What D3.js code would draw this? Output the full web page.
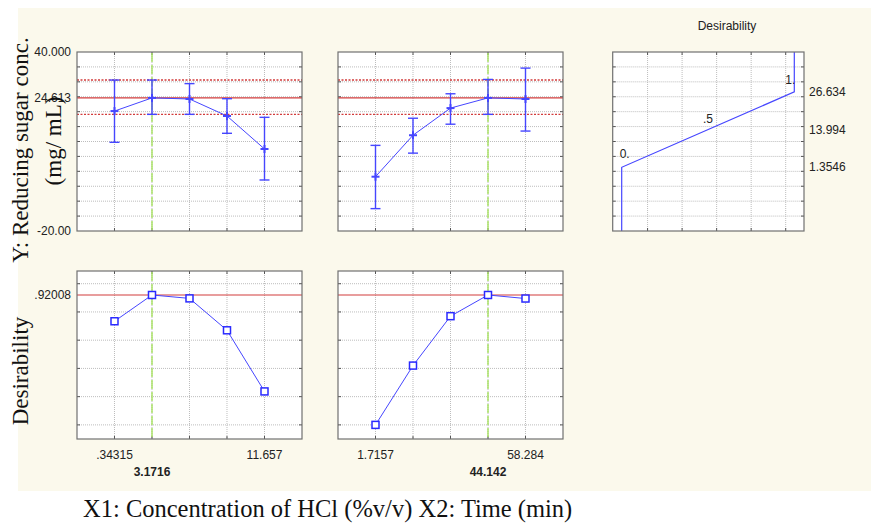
<!DOCTYPE html>
<html>
<head>
<meta charset="utf-8">
<script src="https://cdn.jsdelivr.net/npm/d3@7/dist/d3.min.js"></script>
<style>
  body { margin: 0; background: #fff; }
  svg { display: block; }
  .tick-lbl { font-family: "Liberation Sans", Arial, sans-serif; font-size: 12px; fill: #222; }
  .serif-lbl { font-family: "Liberation Serif", "Times New Roman", serif; fill: #111; }
</style>
</head>
<body>
<div id="chart"></div>
<script>
// factor levels (profiler grid) and the current setting
const x1Levels = [0.34315, 3.1716, 6.0, 8.8284, 11.657];
const x2Levels = [1.7157, 15.858, 30.0, 44.142, 58.284];
const x1Current = 3.1716;
const x2Current = 44.142;

// predicted reducing sugar and its interval at each level
const x1Pred  = [20.2, 24.613, 24.25, 18.55, 7.49];
const x1Lower = [9.73, 19.1, 19.1, 12.75, -2.9];
const x1Upper = [30.6, 30.6, 29.4, 24.35, 18.1];
const x2Pred  = [-1.8, 12.1, 21.2, 24.613, 24.25];
const x2Lower = [-12.5, 6.1, 15.8, 19.1, 13.5];
const x2Upper = [8.7, 17.8, 26.0, 30.8, 34.6];

// desirability at each level
const x1Desir = [0.734, 0.92008, 0.896, 0.670, 0.237];
const x2Desir = [0.0, 0.42, 0.77, 0.92008, 0.895];

// current response and confidence band
const predCurrent = 24.613;
const ciLow = 19.1, ciHigh = 30.6;
const desirCurrent = 0.92008;

// response axis
const yDomain = [-20, 40];
const yGrid = [-15, -10, -5, 0, 5, 10, 15, 20, 25, 30, 35];
const yTickVals = [40, 24.613, -20];
const yTickText = ['40.000', '24.613', '-20.00'];
const dGrid = [0, 0.2, 0.4, 0.6, 0.8, 1.0];

// desirability function of the response
const desFnY = [-20, 1.3546, 26.634, 40];
const desFnD = [0, 0, 1, 1];
const desFnLabelVals = [26.634, 13.994, 1.3546];
const desFnLabelText = ['26.634', '13.994', '1.3546'];
const desFnGrid = [0.15, 0.35, 0.55, 0.75, 0.95];

const W = 871, H = 525;
const svg = d3.select('#chart').append('svg').attr('width', W).attr('height', H);

svg.append('rect').attr('x', 18).attr('y', 8).attr('width', W - 18).attr('height', 483).attr('fill', '#fbf9ec');

const blue = '#4646ff';
const red = '#d23c3c';

const yTop = d3.scaleLinear().domain(yDomain).range([231, 52]);
const yBot = d3.scaleLinear().domain([-0.1, 1.09]).range([439, 271]);

function levelScale(levels, x0, x1){
  let step = levels[1] - levels[0];
  return d3.scaleLinear().domain([levels[0] - step, levels[levels.length - 1] + step]).range([x0, x1]);
}

function frame(xs, ys, xGridVals, yGridVals){
  let [x0, x1] = xs.range();
  let [y0, y1] = ys.range(); // y0 bottom, y1 top
  let g = svg.append('g');
  g.append('rect').attr('x', x0).attr('y', y1).attr('width', x1 - x0).attr('height', y0 - y1).attr('fill', '#fff');
  g.selectAll('.vg').data(xGridVals).enter().append('line')
    .attr('x1', d => xs(d)).attr('x2', d => xs(d)).attr('y1', y1).attr('y2', y0)
    .attr('stroke', '#bdbdbd').attr('stroke-dasharray', '1,1');
  g.selectAll('.hg').data(yGridVals).enter().append('line')
    .attr('x1', x0).attr('x2', x1).attr('y1', d => ys(d)).attr('y2', d => ys(d))
    .attr('stroke', '#bdbdbd').attr('stroke-dasharray', '1,1');
  // small inner ticks on every side
  let tk = 3;
  xGridVals.forEach(d => {
    g.append('line').attr('x1', xs(d)).attr('x2', xs(d)).attr('y1', y1).attr('y2', y1 + tk).attr('stroke', '#555');
    g.append('line').attr('x1', xs(d)).attr('x2', xs(d)).attr('y1', y0).attr('y2', y0 - tk).attr('stroke', '#555');
  });
  yGridVals.forEach(d => {
    g.append('line').attr('x1', x0).attr('x2', x0 + tk).attr('y1', ys(d)).attr('y2', ys(d)).attr('stroke', '#555');
    g.append('line').attr('x1', x1).attr('x2', x1 - tk).attr('y1', ys(d)).attr('y2', ys(d)).attr('stroke', '#555');
  });
  return g;
}

function border(xs, ys){
  let [x0, x1] = xs.range();
  let [y0, y1] = ys.range();
  svg.append('rect').attr('x', x0).attr('y', y1).attr('width', x1 - x0).attr('height', y0 - y1)
    .attr('fill', 'none').attr('stroke', '#707070').attr('stroke-width', 1.2);
}

function hline(xs, y, color, dash, w){
  let [x0, x1] = xs.range();
  svg.append('line').attr('x1', x0).attr('x2', x1).attr('y1', y).attr('y2', y)
    .attr('stroke', color).attr('stroke-width', w).attr('stroke-dasharray', dash);
}

function vCurrent(xs, ys, v){
  let [y0, y1] = ys.range();
  svg.append('line').attr('x1', xs(v)).attr('x2', xs(v)).attr('y1', y1 + 1).attr('y2', y0)
    .attr('stroke', '#a6e25e').attr('stroke-width', 1.4).attr('stroke-dasharray', '9,3');
}

function topPanel(levels, pred, lo, hi, cur, x0, x1){
  let xs = levelScale(levels, x0, x1);
  frame(xs, yTop, levels, yGrid);
  vCurrent(xs, yTop, cur);
  hline(xs, yTop(ciHigh), red, '2,1.5', 1.4);
  hline(xs, yTop(ciLow), red, '2,1.5', 1.4);
  hline(xs, yTop(predCurrent), red, null, 1.2);
  let pts = levels.map((v, i) => ({x: v, y: pred[i], lo: lo[i], hi: hi[i]}));
  svg.append('path').datum(pts)
    .attr('d', d3.line().x(d => xs(d.x)).y(d => yTop(d.y)))
    .attr('fill', 'none').attr('stroke', blue).attr('stroke-width', 1);
  let eb = svg.append('g').attr('stroke', blue).attr('stroke-width', 1.4);
  pts.forEach(d => {
    let cx = xs(d.x);
    eb.append('line').attr('x1', cx).attr('x2', cx).attr('y1', yTop(d.hi)).attr('y2', yTop(d.lo));
    eb.append('line').attr('x1', cx - 5).attr('x2', cx + 5).attr('y1', yTop(d.hi)).attr('y2', yTop(d.hi));
    eb.append('line').attr('x1', cx - 5).attr('x2', cx + 5).attr('y1', yTop(d.lo)).attr('y2', yTop(d.lo));
    eb.append('line').attr('x1', cx - 4).attr('x2', cx + 4).attr('y1', yTop(d.y)).attr('y2', yTop(d.y)).attr('stroke-width', 2);
    eb.append('line').attr('x1', cx).attr('x2', cx).attr('y1', yTop(d.y) - 4).attr('y2', yTop(d.y) + 4).attr('stroke-width', 2);
  });
  border(xs, yTop);
  return xs;
}

function botPanel(levels, des, cur, x0, x1){
  let xs = levelScale(levels, x0, x1);
  frame(xs, yBot, levels, dGrid);
  vCurrent(xs, yBot, cur);
  hline(xs, yBot(desirCurrent), red, null, 1.2);
  let pts = levels.map((v, i) => ({x: v, d: des[i]}));
  svg.append('path').datum(pts)
    .attr('d', d3.line().x(d => xs(d.x)).y(d => yBot(d.d)))
    .attr('fill', 'none').attr('stroke', blue).attr('stroke-width', 1);
  svg.selectAll(null).data(pts).enter().append('rect')
    .attr('x', d => xs(d.x) - 3.5).attr('y', d => yBot(d.d) - 3.5)
    .attr('width', 7).attr('height', 7)
    .attr('fill', '#fff').attr('stroke', '#2a2aff').attr('stroke-width', 1.5);
  border(xs, yBot);

  // level labels: first and last, current in bold below
  let lbl = svg.append('g').attr('class', 'tick-lbl').attr('text-anchor', 'middle');
  let fmt = v => v < 1 ? String(v).replace(/^0/, '') : String(v);
  [levels[0], levels[levels.length - 1]].forEach(v => {
    lbl.append('text').attr('x', xs(v)).attr('y', 459).text(fmt(v));
  });
  lbl.append('text').attr('x', xs(cur)).attr('y', 476).attr('font-weight', 'bold').text(fmt(cur));
  return xs;
}

topPanel(x1Levels, x1Pred, x1Lower, x1Upper, x1Current, 77, 302);
topPanel(x2Levels, x2Pred, x2Lower, x2Upper, x2Current, 338, 563);
botPanel(x1Levels, x1Desir, x1Current, 77, 302);
botPanel(x2Levels, x2Desir, x2Current, 338, 563);

// response tick labels
svg.append('g').attr('class', 'tick-lbl').attr('text-anchor', 'end')
  .selectAll('text').data(yTickVals).enter().append('text')
  .attr('x', 71).attr('y', d => yTop(d)).attr('dy', '0.35em')
  .text((d, i) => yTickText[i]);
svg.append('text').attr('class', 'tick-lbl').attr('text-anchor', 'end')
  .attr('x', 71).attr('y', yBot(desirCurrent)).attr('dy', '0.35em').text('.92008');

// desirability function panel
const xDes = d3.scaleLinear().domain([0, 1]).range([621.7, 794.3]);
const xDesFrame = d3.scaleLinear().domain([-0.052, 1.056]).range([612.7, 804]);
frame(xDesFrame, yTop, desFnGrid, yGrid);
svg.append('path').datum(desFnY.map((y, i) => ({y: y, d: desFnD[i]})))
  .attr('d', d3.line().x(d => xDes(d.d)).y(d => yTop(d.y)))
  .attr('fill', 'none').attr('stroke', blue).attr('stroke-width', 1.2);
border(xDesFrame, yTop);
svg.append('text').attr('class', 'tick-lbl').attr('font-size', '11.5px').attr('text-anchor', 'middle')
  .attr('x', 727).attr('y', 30).text('Desirability');
svg.append('g').attr('class', 'tick-lbl').attr('font-size', '12.5px')
  .selectAll('text').data(desFnLabelVals).enter().append('text')
  .attr('x', 809).attr('y', d => yTop(d)).attr('dy', '0.35em')
  .text((d, i) => desFnLabelText[i]);
const dl = svg.append('g').attr('class', 'tick-lbl').attr('font-size', '11px').attr('fill', '#333');
dl.append('text').attr('x', xDes(0) - 2).attr('y', yTop(1.3546) - 9).text('0.');
dl.append('text').attr('x', xDes(0.5)).attr('y', yTop(13.994) - 7).attr('text-anchor', 'middle').text('.5');
dl.append('text').attr('x', xDes(1) + 1).attr('y', yTop(26.634) - 8).attr('text-anchor', 'end').text('1.');

// axis titles
const ttl = svg.append('g').attr('class', 'serif-lbl').attr('font-size', '23px').attr('text-anchor', 'middle');
ttl.append('text').attr('transform', 'translate(28,150) rotate(-90)').text('Y: Reducing sugar conc.');
ttl.append('text').attr('transform', 'translate(61,141) rotate(-90)').text('(mg/ mL)');
ttl.append('text').attr('transform', 'translate(28,371) rotate(-90)').text('Desirability');

svg.append('text').attr('class', 'serif-lbl').attr('font-size', '24.5px')
  .attr('x', 83).attr('y', 517).text('X1: Concentration of HCl (%v/v) X2: Time (min)');
</script>
</body>
</html>
